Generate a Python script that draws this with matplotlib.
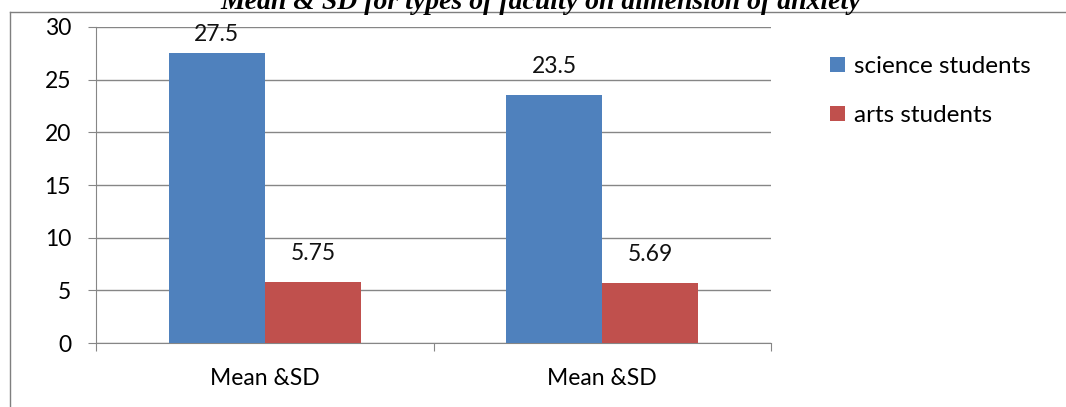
import matplotlib.pyplot as plt
import numpy as np
from matplotlib.lines import Line2D

categories = ['Mean &SD', 'Mean &SD']
science = [27.5, 23.5]
arts = [5.75, 5.69]
series_names = ['science students', 'arts students']

blue = '#4f81bd'
red = '#c0504d'
grid_col = '#868686'
fs = 16.5

plt.rcParams['font.family'] = ['Lato', 'DejaVu Sans']

fig = plt.figure(figsize=(10.66, 4.07), dpi=100)
ax = fig.add_axes([0.0901, 0.1572, 0.7233 - 0.0901, 0.9337 - 0.1572])

x = np.arange(len(categories))
w = 0.285
b1 = ax.bar(x - w / 2, science, w, color=blue, label=series_names[0], zorder=3)
b2 = ax.bar(x + w / 2, arts, w, color=red, label=series_names[1], zorder=3)

ax.set_xlim(-0.5, 1.5)
ax.set_ylim(0, 30)

# value labels above each bar; a label that would run past the top is held inside
gap_pt = 13
text_pt = 13
px_per_unit = ax.get_window_extent(fig.canvas.get_renderer()).height / 30
room_pt = lambda v: (30 - v) * px_per_unit * 72 / fig.dpi
for bars, vals in ((b1, science), (b2, arts)):
    for rect, v in zip(bars, vals):
        cx = rect.get_x() + rect.get_width() / 2
        if room_pt(v) < gap_pt + text_pt:
            ax.annotate(f'{v:g}', (cx, 30), xytext=(0, 2.5), textcoords='offset points',
                        ha='center', va='top', fontsize=fs, color='#111111')
        else:
            ax.annotate(f'{v:g}', (cx, v), xytext=(0, gap_pt), textcoords='offset points',
                        ha='center', va='bottom', fontsize=fs, color='#111111')

ax.set_yticks(range(0, 31, 5))
ax.set_xticks([-0.5, 0.5, 1.5])
ax.set_xticklabels([])
ax.set_xticks(x, minor=True)
ax.set_xticklabels(categories, minor=True)
ax.tick_params(axis='x', which='minor', length=0, pad=18, labelsize=fs)
ax.tick_params(axis='x', which='major', length=6, direction='out', color=grid_col)
ax.tick_params(axis='y', length=6, direction='out', color=grid_col, labelsize=fs, pad=12)

ax.yaxis.grid(True, color=grid_col, linewidth=1, zorder=0)
ax.set_axisbelow(True)
for s in ('top', 'right'):
    ax.spines[s].set_visible(False)
for s in ('left', 'bottom'):
    ax.spines[s].set_color(grid_col)

leg = ax.legend(loc='upper left', bbox_to_anchor=(0.779, 0.862), bbox_transform=fig.transFigure,
                frameon=False, fontsize=17.5, handlelength=0.6, handleheight=0.6,
                handletextpad=0.35, labelspacing=1.15, borderpad=0, borderaxespad=0)

# outer chart frame, only left and top edges visible
frame_col = '#7f7f7f'
fig.add_artist(Line2D([10 / 1066, 10 / 1066], [0, 1 - 12 / 407], color=frame_col, lw=1))
fig.add_artist(Line2D([10 / 1066, 1], [1 - 12 / 407, 1 - 12 / 407], color=frame_col, lw=1))

fig.text(0.507, 1 - 9 / 407, 'Mean & SD for types of faculty on dimension of anxiety',
         ha='center', va='baseline', fontsize=20, fontweight='bold', fontstyle='italic',
         family='Liberation Serif')

fig.savefig('out.png', dpi=100)
